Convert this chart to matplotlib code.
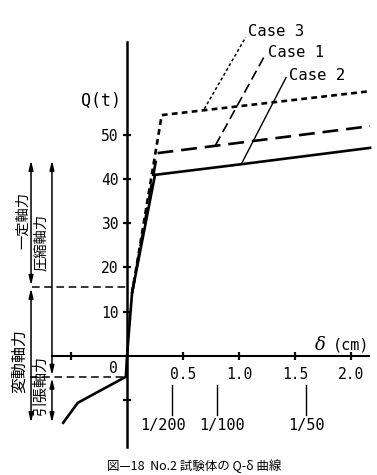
import matplotlib
matplotlib.use("Agg")
import matplotlib.pyplot as plt

# ---- data (delta in cm, Q in t) ----
case2_d = [-0.57, -0.44, -0.01, 0.0, 0.045, 0.25, 1.02, 2.17]
case2_q = [-15.1, -10.6, -4.7, 0.0, 14.2, 40.9, 43.3, 47.0]
case1_d = [0.045, 0.27, 2.17]
case1_q = [14.2, 45.8, 51.9]
case3_d = [0.045, 0.31, 2.17]
case3_q = [14.2, 54.4, 59.8]

xticks = [-0.5, 0.5, 1.0, 1.5, 2.0]
xticklabels = ["", "0.5", "1.0", "1.5", "2.0"]
yticks = [-10, 10, 20, 30, 40, 50]
yticklabels = ["", "10", "20", "30", "40", "50"]

drift_d = [0.4, 0.8, 1.6]
drift_labels = ["1/200", "1/100", "1/50"]
drift_label_x = [0.32, 0.85, 1.6]

axial_comp_q = 15.6   # constant / compression boundary
axial_tens_q = -4.7   # tension boundary

MONO = "DejaVu Sans Mono"
JP = ["Noto Sans CJK JP", "DejaVu Sans"]

fig = plt.figure(figsize=(3.77, 4.75), dpi=100)
ax = fig.add_axes([0, 0, 1, 1])
ax.set_xlim(-1.134, 2.232)
ax.set_ylim(-26.9, 80.4)

for s in ["top", "right"]:
    ax.spines[s].set_visible(False)
ax.spines["left"].set_position(("data", 0))
ax.spines["bottom"].set_position(("data", 0))
ax.spines["left"].set_bounds(-20.5, 71)
ax.spines["bottom"].set_bounds(-0.67, 2.16)
ax.spines["left"].set_linewidth(1.8)
ax.spines["bottom"].set_linewidth(1.5)

ax.set_xticks(xticks, xticklabels)
ax.set_yticks(yticks, yticklabels)
ax.tick_params(axis="both", direction="inout", length=6, width=1.6, labelsize=10.5)
ax.tick_params(axis="x", pad=5)
ax.tick_params(axis="y", pad=3)
for lab in ax.get_xticklabels() + ax.get_yticklabels():
    lab.set_family(MONO)

# curves
ax.plot(case2_d, case2_q, color="black", lw=1.9, solid_joinstyle="miter")
ax.plot(case1_d, case1_q, color="black", lw=1.9, dashes=(6, 3))
ax.plot(case3_d, case3_q, color="black", lw=1.9, dashes=(2.2, 1.6))

# leaders + case labels
ax.plot([0.69, 1.06], [55.8, 72.0], color="black", lw=1.1, dashes=(2, 1.6))
ax.plot([0.79, 1.24], [47.6, 68.3], color="black", lw=1.2, dashes=(6, 3))
ax.plot([1.02, 1.42], [43.3, 62.9], color="black", lw=1.0)
ax.text(1.08, 73.2, "Case 3", family=MONO, fontsize=11.2, va="center", ha="left")
ax.text(1.26, 68.6, "Case 1", family=MONO, fontsize=11.2, va="center", ha="left")
ax.text(1.45, 63.3, "Case 2", family=MONO, fontsize=11.2, va="center", ha="left")

# axis labels
ax.text(-0.23, 57.6, "Q(t)", family=MONO, fontsize=12, ha="center", va="center")
ax.text(-0.12, -2.8, "0", family=MONO, fontsize=10.5, ha="center", va="center")
ax.text(1.73, 2.4, "δ", family="DejaVu Serif", style="italic", fontsize=13, ha="center", va="center")
ax.text(2.0, 2.4, "(cm)", family=MONO, fontsize=11, ha="center", va="center")

# drift angle marks
for d, lx, lab in zip(drift_d, drift_label_x, drift_labels):
    ax.plot([d, d], [-6.6, -13.3], color="black", lw=1.0)
    ax.text(lx, -15.8, lab, family=MONO, fontsize=11, ha="center", va="center")

# dashed boundary lines
ax.plot([-0.85, 0.0], [axial_comp_q, axial_comp_q], color="black", lw=1.1, dashes=(5, 3))
ax.plot([-0.87, -0.01], [axial_tens_q, axial_tens_q], color="black", lw=1.1, dashes=(5, 3))

# axial force arrows
astyle = dict(arrowstyle="<|-|>,head_length=0.55,head_width=0.13", color="black", lw=1.1,
              shrinkA=0, shrinkB=0, mutation_scale=10)
ax.annotate("", xy=(-0.857, 44.2), xytext=(-0.857, axial_comp_q + 0.3), arrowprops=astyle)
ax.annotate("", xy=(-0.857, -15.1), xytext=(-0.857, axial_comp_q - 0.3), arrowprops=astyle)
ax.annotate("", xy=(-0.67, 44.2), xytext=(-0.67, axial_tens_q + 0.3), arrowprops=astyle)
ax.annotate("", xy=(-0.67, -15.1), xytext=(-0.67, axial_tens_q - 0.3), arrowprops=astyle)

ax.text(-0.925, 30.5, "一定軸力", family=JP, fontsize=10.3, rotation=90, ha="center", va="center")
ax.text(-0.765, 25.7, "圧縮軸力", family=JP, fontsize=10.3, rotation=90, ha="center", va="center")
ax.text(-0.96, -1.2, "変動軸力", family=JP, fontsize=11.5, rotation=90, ha="center", va="center")
ax.text(-0.77, -6.6, "引張軸力", family=JP, fontsize=10.8, rotation=90, ha="center", va="center")

# caption
ax.text(0.6, -24.8, "図—18  No.2 試験体の Q-δ 曲線", family=JP, fontsize=9.0, ha="center", va="center")

fig.savefig("out.png", dpi=100)
